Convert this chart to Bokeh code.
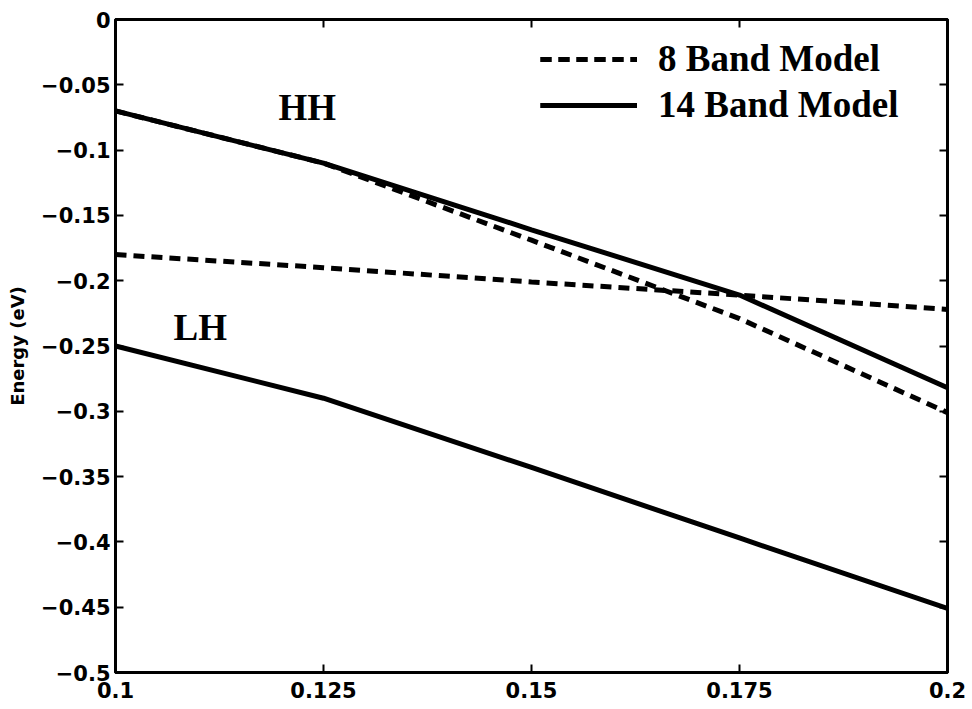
from bokeh.plotting import figure
from bokeh.models import (Range1d, FixedTicker, LinearAxis, Legend, LegendItem, Label)
from bokeh.embed import file_html
from bokeh.resources import INLINE

# ---- data ----
k = [0.1, 0.125, 0.15, 0.175, 0.2]
hh_8band = [-0.070, -0.110, -0.169, -0.229, -0.301]
hh_14band = [-0.070, -0.110, -0.161, -0.211, -0.282]
lh_8band = [-0.180, -0.190, -0.201, -0.211, -0.222]
lh_14band = [-0.250, -0.290, -0.343, -0.397, -0.451]

x_ticks = [0.1, 0.125, 0.15, 0.175, 0.2]
x_tick_labels = ["0.1", "0.125", "0.15", "0.175", "0.2"]
y_ticks = [0, -0.05, -0.1, -0.15, -0.2, -0.25, -0.3, -0.35, -0.4, -0.45, -0.5]
y_tick_labels = ["0", "\u22120.05", "\u22120.1", "\u22120.15", "\u22120.2", "\u22120.25",
                 "\u22120.3", "\u22120.35", "\u22120.4", "\u22120.45", "\u22120.5"]
series_names = ["8 Band Model", "14 Band Model"]
y_label = "Energy (eV)"

TICK_FONT = "DejaVu Sans"
SERIF = "Liberation Serif"

p = figure(width=972, height=709, output_backend="svg", toolbar_location=None,
           x_range=Range1d(0.1, 0.2), y_range=Range1d(-0.5, 0.0),
           min_border_left=115, min_border_right=25, min_border_top=19, min_border_bottom=37,
           background_fill_color="white", border_fill_color="white")
p.grid.visible = False
p.outline_line_color = "black"
p.outline_line_width = 3

# bottom / left axes
xa = p.xaxis[0]
ya = p.yaxis[0]
xa.ticker = FixedTicker(ticks=x_ticks)
ya.ticker = FixedTicker(ticks=y_ticks)
xa.major_label_overrides = dict(zip(x_ticks, x_tick_labels))
ya.major_label_overrides = dict(zip(y_ticks, y_tick_labels))
for ax in (xa, ya):
    ax.axis_line_width = 3
    ax.axis_line_color = "black"
    ax.major_tick_in = 8
    ax.major_tick_out = 0
    ax.major_tick_line_width = 2
    ax.minor_tick_line_color = None
    ax.major_label_text_font = TICK_FONT
    ax.major_label_text_font_style = "bold"
    ax.major_label_text_font_size = "21px"
    ax.major_label_text_color = "black"
xa.major_label_standoff = 9
ya.major_label_standoff = 5
ya.axis_label = y_label
ya.axis_label_text_font = TICK_FONT
ya.axis_label_text_font_style = "bold"
ya.axis_label_text_font_size = "18px"
ya.axis_label_text_color = "black"
ya.axis_label_standoff = 10

# mirrored ticks on top and right
top = LinearAxis(ticker=FixedTicker(ticks=x_ticks))
right = LinearAxis(ticker=FixedTicker(ticks=y_ticks))
for ax in (top, right):
    ax.axis_line_width = 3
    ax.major_tick_in = 8
    ax.major_tick_out = 0
    ax.major_tick_line_width = 2
    ax.minor_tick_line_color = None
    ax.major_label_text_font_size = "0px"
    ax.major_label_text_alpha = 0
    ax.major_label_standoff = 0
p.add_layout(top, "above")
p.add_layout(right, "right")

dash = "11 7"
lw = 5
r_hh8 = p.line(k, hh_8band, line_color="black", line_width=lw, line_dash=dash)
r_lh8 = p.line(k, lh_8band, line_color="black", line_width=lw, line_dash=dash)
r_hh14 = p.line(k, hh_14band, line_color="black", line_width=lw)
r_lh14 = p.line(k, lh_14band, line_color="black", line_width=lw)

legend = Legend(items=[LegendItem(label=series_names[0], renderers=[r_hh8, r_lh8]),
                       LegendItem(label=series_names[1], renderers=[r_hh14, r_lh14])],
                location=(425, 546))
legend.label_text_font = SERIF
legend.label_text_font_style = "bold"
legend.label_text_font_size = "37px"
legend.label_text_color = "black"
legend.glyph_width = 97
legend.glyph_height = 40
legend.label_height = 40
legend.label_standoff = 21
legend.spacing = 3
legend.padding = 0
legend.margin = 0
legend.border_line_color = None
legend.background_fill_alpha = 0
p.add_layout(legend)

p.add_layout(Label(x=0.1196, y=-0.0674, text="HH", text_font=SERIF, text_font_style="bold",
                   text_font_size="37px", text_color="black", text_baseline="alphabetic"))
p.add_layout(Label(x=0.10697, y=-0.2358, text="LH", text_font=SERIF, text_font_style="bold",
                   text_font_size="37px", text_color="black", text_baseline="alphabetic"))

open("out.html", "w").write(file_html(p, INLINE))
